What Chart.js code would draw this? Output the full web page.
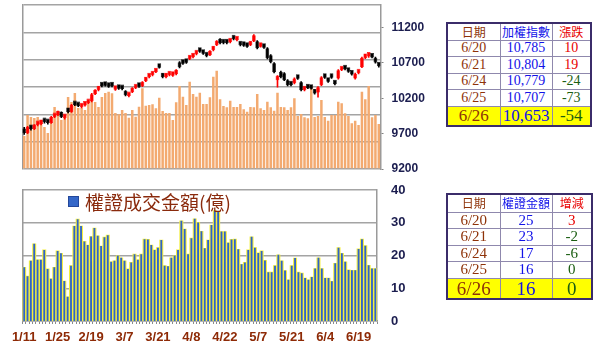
<!DOCTYPE html>
<html><head><meta charset="utf-8">
<script src="https://cdn.jsdelivr.net/npm/chart.js@4.4.1/dist/chart.umd.min.js"></script>
<style>
html,body{margin:0;padding:0;background:#fff}
body{width:598px;height:352px;overflow:hidden;position:relative}
canvas{position:absolute;left:0}
#cTop{top:0}
#cBot{top:176px}
table{position:absolute;border-collapse:collapse;border:2px solid #3b2c6a;background:#fff;table-layout:fixed;font-family:"Liberation Serif",serif}
td{border:1px solid #8f88ad;text-align:center;padding:0;line-height:1;white-space:nowrap;overflow:hidden}
td.hd{font-family:"Noto Sans CJK TC",sans-serif;font-size:12px}
.cd{color:#8e3208}.cb{color:#1212e8}.cr{color:#e80000}.cg{color:#1b5e12}
tr.last td{background:#ffff00}
#legend{position:absolute;left:68px;top:189px;height:24px;display:flex;align-items:center;font-family:"Noto Sans CJK TC",sans-serif;font-size:19px;color:#8a2a0c}
#legend span.sq{display:inline-block;width:9px;height:9px;background:#3467c8;border:1px solid #24479a;margin-right:6px}
</style>
</head><body>
<canvas id="cTop" width="445" height="178"></canvas>
<canvas id="cBot" width="445" height="176"></canvas>
<div id="legend"><span class="sq"></span><span>權證成交金額(億)</span></div>
<table id="t1" style="left:446px;top:22px;width:144px"></table>
<table id="t2" style="left:446px;top:193px;width:145px"></table>
<script>
const dates = ['1/11','1/14','1/15','1/16','1/17','1/18','1/21','1/22','1/23','1/24','1/25','1/28','1/29','1/30',
'2/11','2/12','2/13','2/14','2/15','2/18','2/19','2/20','2/21','2/22','2/25','2/26','2/27',
'3/4','3/5','3/6','3/7','3/8','3/11','3/12','3/13','3/14','3/15','3/18','3/19','3/20','3/21','3/22','3/25','3/26','3/27','3/28','3/29',
'4/1','4/2','4/3','4/8','4/9','4/10','4/11','4/12','4/15','4/16','4/17','4/18','4/19','4/22','4/23','4/24','4/25','4/26','4/29','4/30',
'5/2','5/3','5/6','5/7','5/8','5/9','5/10','5/13','5/14','5/15','5/16','5/17','5/20','5/21','5/22','5/23','5/24','5/27','5/28','5/29','5/30','5/31',
'6/3','6/4','6/5','6/6','6/10','6/11','6/12','6/13','6/14','6/17','6/18','6/19','6/20','6/21','6/24','6/25','6/26'];
const xTickLabels = ['1/11','1/25','2/19','3/7','3/21','4/8','4/22','5/7','5/21','6/4','6/19'];
const priceTicks = [9200,9700,10200,10700,11200];
const warrantTicks = [0,10,20,30,40];

const opens = [9765,9708,9793,9765,9821,9835,9878,9864,9850,9934,9962,10005,9920,10047,10005,10132,10104,10075,10097,10132,
10160,10259,10315,10386,10400,10386,10386,10322,10358,10344,10301,10231,10287,10344,10386,10372,10443,10499,10527,10570,
10668,10541,10499,10527,10520,10541,10711,10711,10725,10753,10781,10824,10880,10859,10824,10810,10880,10951,11036,11000,
11007,10993,11057,11022,10979,10958,10951,10951,11007,11007,10930,10951,10909,10810,10697,10457,10577,10555,10457,10414,
10414,10492,10428,10315,10358,10351,10315,10282,10386,10513,10471,10513,10421,10480,10598,10633,10612,10570,10480,10555,
10640,10770,10790,10817,10775,10690];
const closes = [9708,9793,9765,9821,9835,9878,9864,9850,9934,9962,10005,9934,9948,10005,10104,10104,10090,10097,10132,10153,
10259,10315,10358,10372,10379,10365,10372,10344,10337,10330,10245,10252,10344,10365,10365,10428,10485,10520,10563,10605,
10633,10499,10541,10534,10555,10598,10640,10690,10704,10789,10817,10852,10859,10831,10796,10866,10923,11007,10979,10979,
10979,11028,11036,11050,10951,10944,10930,10993,11092,10909,10965,10916,10767,10711,10570,10513,10499,10457,10386,10386,
10480,10478,10315,10344,10344,10337,10268,10358,10499,10492,10435,10492,10400,10598,10626,10612,10577,10536,10548,10570,
10775,10785,10804,10779,10707,10653];
const highs = [9790,9805,9810,9830,9850,9890,9895,9875,9945,9975,10020,10010,9960,10060,10115,10140,10120,10110,10140,10165,
10270,10325,10370,10400,10410,10395,10398,10355,10370,10355,10310,10262,10352,10375,10395,10436,10495,10530,10570,10615,
10680,10550,10550,10545,10565,10606,10720,10722,10735,10798,10826,10862,10890,10868,10832,10874,10932,11016,11045,11010,
11016,11036,11066,11058,10988,10968,10960,11002,11100,11015,10974,10960,10918,10820,10706,10522,10586,10564,10466,10424,
10490,10502,10436,10352,10368,10360,10324,10366,10508,10522,10480,10522,10430,10606,10635,10642,10620,10578,10556,10580,
10785,10800,10815,10826,10784,10700];
const lows = [9690,9700,9750,9755,9810,9825,9850,9835,9845,9925,9955,9925,9905,9995,10000,10095,10080,10065,10090,10125,
10150,10250,10305,10360,10370,10355,10360,10310,10325,10318,10235,10220,10280,10335,10355,10365,10435,10490,10518,10562,
10625,10490,10490,10515,10510,10532,10630,10680,10695,10745,10772,10815,10850,10822,10786,10802,10872,10943,10970,10968,
10970,10985,11027,11012,10942,10935,10920,10943,11000,10900,10922,10906,10758,10700,10560,10358,10490,10448,10376,10376,
10405,10468,10305,10305,10335,10328,10258,10217,10378,10483,10426,10483,10390,10472,10590,10603,10568,10527,10472,10546,
10632,10760,10780,10770,10698,10640];
const turnover = [604,988,951,933,951,896,768,658,841,1134,1043,896,951,1317,1225,1390,1116,1116,1079,1225,
1317,1225,1134,1317,1390,1414,1385,1024,1000,1079,1024,938,1079,957,1139,1476,1158,1171,1183,1110,
1304,1061,1024,1024,896,1220,1518,1322,1171,1597,1372,1322,1396,1189,1189,1311,1688,1798,1275,1152,
1128,1249,1134,1134,1189,1092,1048,1134,1128,1372,1110,1079,1231,1128,1066,1396,1134,1128,1079,1128,
1293,969,1006,946,927,1536,951,969,1262,951,883,988,988,1231,1202,1019,969,836,883,805,
1414,1275,1518,946,988,823];
const warrant = [16.4,13.7,18.4,23.6,18.7,18.7,21.7,15.9,12.9,16.4,21.4,20.7,12.2,7.4,16.9,29,31.1,29,24.3,23.2,
25.8,28.4,26,22.9,25.6,26.2,18.1,18.4,19.9,19.3,18.4,15.9,17.9,20.4,18.7,20.4,25,24.9,23.2,21.7,
22.4,24.7,16.9,16.7,19.3,19.9,21.7,30.6,28.1,20.4,25.3,31.2,30.1,27.4,22.2,24.7,29.3,33.7,33.3,27.3,
27.3,23.9,24.9,25,21.9,17.3,17.9,21.7,25.7,22.4,20.8,21.4,18.5,14.9,14.9,16.9,20.2,18.4,15.4,12.6,
16.9,19.2,14.9,14.6,13.1,12.6,13.4,16,19.3,16,13.1,13.1,12.1,17.6,22.4,20.7,18.1,15.6,15.5,15.5,
22,25,23,17,16,16];

const tblDates = ['6/20','6/21','6/24','6/25','6/26'];
const tblIndex = [10785,10804,10779,10707,10653];
const tblIndexChg = [10,19,-24,-73,-54];
const tblWarrant = [25,23,17,16,16];
const tblWarrantChg = [3,-2,-6,0,0];

const bodies = opens.map((o,i)=>[o,closes[i]]);
const wicks = lows.map((l,i)=>[l,highs[i]]);
const candleColors = opens.map((o,i)=> closes[i]>o ? '#ff0000' : '#000000');

const axisFont = {family:'"Liberation Sans", Arial, sans-serif', weight:'bold', size:12};
const axisColor = '#1b1d4f';
const gridColor = '#a4a4a4';
const frameColor = '#9a9a9a';
function noPad(s){ s.paddingTop=0; s.paddingBottom=0; s.paddingLeft=0; s.paddingRight=0; }

const topChart = new Chart(document.getElementById('cTop'), {
  data:{
    labels:dates,
    datasets:[
      {type:'bar', data:bodies, yAxisID:'yp', backgroundColor:candleColors, borderColor:candleColors, borderWidth:0.6, borderSkipped:false, minBarLength:4.5, barPercentage:1.12, categoryPercentage:1, grouped:false, order:1},
      {type:'bar', data:wicks, yAxisID:'yp', backgroundColor:candleColors, barThickness:1, grouped:false, order:2},
      {type:'bar', data:turnover, yAxisID:'yv', backgroundColor:'#f3aa70', barPercentage:0.74, categoryPercentage:1, grouped:false, order:3}
    ]
  },
  options:{
    animation:false, responsive:false, events:[],
    plugins:{legend:{display:false}, tooltip:{enabled:false}},
    layout:{autoPadding:false, padding:{top:5,bottom:9,left:0,right:0}},
    scales:{
      x:{display:false, offset:true},
      yv:{position:'left', min:0, max:3000, ticks:{display:false, stepSize:500},
          grid:{color:gridColor, lineWidth:1.5, drawTicks:false},
          border:{display:true, color:frameColor, width:1.5},
          afterFit:s=>{s.width=22; noPad(s);}},
      yp:{position:'right', min:9200, max:11520,
          afterBuildTicks:s=>{s.ticks = priceTicks.map(v=>({value:v}));},
          ticks:{callback:v=>String(v), font:axisFont, color:axisColor, padding:8},
          grid:{drawOnChartArea:false, tickLength:3, color:'#808080'},
          border:{display:true, color:frameColor, width:1.5},
          afterFit:s=>{s.width=64.5; noPad(s);}}
    }
  }
});

const botChart = new Chart(document.getElementById('cBot'), {
  data:{
    labels:dates,
    datasets:[
      {type:'bar', data:warrant, backgroundColor:'#2f63c9', barPercentage:0.55, categoryPercentage:1, grouped:false, order:1},
      {type:'bar', data:warrant, backgroundColor:'#f4ef3e', barPercentage:1, categoryPercentage:1, grouped:false, order:2}
    ]
  },
  options:{
    animation:false, responsive:false, events:[],
    plugins:{legend:{display:false}, tooltip:{enabled:false}},
    layout:{autoPadding:false, padding:{top:14,bottom:0,left:0,right:0}},
    scales:{
      x:{offset:true,
         grid:{drawOnChartArea:false, tickLength:3, color:'#8a8a8a'},
         border:{display:true, color:frameColor, width:1.5},
         ticks:{autoSkip:false, maxRotation:0, minRotation:0, padding:6,
           callback:function(v){const l=this.getLabelForValue(v); return xTickLabels.includes(l)?l:'';},
           font:{family:'"Liberation Sans", Arial, sans-serif', weight:'bold', size:13}, color:'#8e2a06'},
         afterFit:s=>{s.height=31; noPad(s);}},
      yl:{position:'left', min:0, max:40, ticks:{display:false}, grid:{display:false},
         border:{display:true, color:frameColor, width:1.5}, afterFit:s=>{s.width=22; noPad(s);}},
      y:{position:'right', min:0, max:40,
         afterBuildTicks:s=>{s.ticks = warrantTicks.map(v=>({value:v}));},
         ticks:{font:{family:'"Liberation Sans", Arial, sans-serif', weight:'bold', size:13}, color:axisColor, padding:14},
         grid:{color:gridColor, lineWidth:1.5, drawTicks:false},
         border:{display:true, color:frameColor, width:1.5},
         afterFit:s=>{s.width=68; noPad(s);}}
    }
  }
});

// nudge layout padding so the plot areas land where the reference has them
function fitArea(chart, target){
  for(let k=0;k<4;k++){
    const a = chart.chartArea, p = chart.options.layout.padding;
    const dT = target.top - a.top, dB = a.bottom - target.bottom, dL = target.left - a.left, dR = a.right - target.right;
    if(Math.abs(dT)+Math.abs(dB)+Math.abs(dL)+Math.abs(dR) < 0.2) break;
    p.top += dT; p.bottom += dB; p.left += dL; p.right += dR;
    chart.update('none');
  }
}
fitArea(topChart, {top:5, bottom:169, left:22.5, right:380.5});
fitArea(botChart, {top:14, bottom:145, left:22.5, right:377});

function fmt(n){return n.toLocaleString('en-US');}
function buildTable(el, cols, headers, hdClasses, vals, chg, rowHeights, fs, lastFs){
  let html = '<colgroup>' + cols.map(w=>'<col style="width:'+w+'px">').join('') + '</colgroup>';
  html += '<tr style="height:'+rowHeights[0]+'px">' + headers.map((h,i)=>'<td class="hd '+hdClasses[i]+'">'+h+'</td>').join('') + '</tr>';
  for(let i=0;i<tblDates.length;i++){
    const last = i===tblDates.length-1;
    const h = last ? rowHeights[2] : rowHeights[1];
    const f = last ? lastFs : fs;
    const c = chg[i];
    const cc = c>0 ? 'cr' : 'cg';
    html += '<tr class="'+(last?'last':'')+'" style="height:'+h+'px;font-size:'+f+'px">'
      + '<td class="cd">'+tblDates[i]+'</td>'
      + '<td class="cb">'+fmt(vals[i])+'</td>'
      + '<td class="'+cc+'">'+c+'</td></tr>';
  }
  el.innerHTML = html;
}
buildTable(document.getElementById('t1'), [53,52,39], ['日期','加權指數','漲跌'], ['cd','cb','cr'],
  tblIndex, tblIndexChg, [17,16.5,20], 14, 17);
buildTable(document.getElementById('t2'), [53,52,40], ['日期','權證金額','增減'], ['cd','cb','cr'],
  tblWarrant, tblWarrantChg, [18,16.5,20], 15, 19);
</script>
</body></html>
